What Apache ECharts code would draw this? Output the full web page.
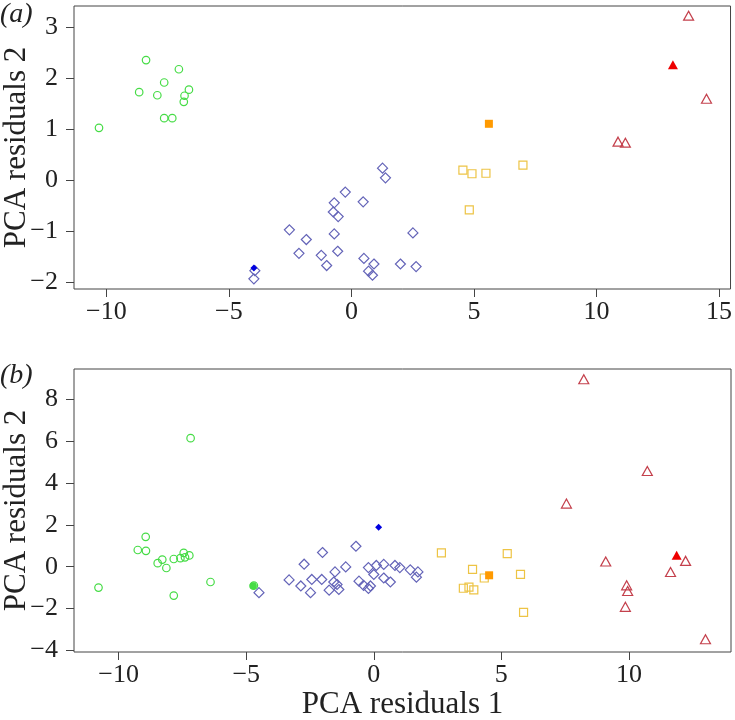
<!DOCTYPE html>
<html>
<head>
<meta charset="utf-8">
<script src="https://cdn.jsdelivr.net/npm/echarts@6/dist/echarts.min.js"></script>
<style>
html,body{margin:0;padding:0;background:#fff;}
#chart{width:735px;height:720px;}
</style>
</head>
<body>
<div id="chart"></div>
<script>
// ---------- Panel (a) data ----------
const aGreen = [[-8.38,2.36],[-7.04,2.18],[-7.64,1.92],[-6.63,1.78],[-8.66,1.73],[-7.92,1.67],[-6.81,1.66],[-6.84,1.54],[-7.64,1.22],[-7.31,1.22],[-10.30,1.03]];
const aBlue = [[-3.94,-1.77],[-3.98,-1.93],[-2.53,-0.97],[-1.84,-1.16],[-2.14,-1.43],[-1.23,-1.47],[-1.01,-1.67],[-0.70,-1.05],[-0.56,-1.39],[-0.70,-0.44],[-0.74,-0.62],[-0.54,-0.71],[-0.25,-0.23],[0.48,-0.42],[0.51,-1.53],[0.92,-1.64],[0.70,-1.78],[0.86,-1.86],[1.27,0.24],[1.39,0.05],[2.51,-1.03],[2.00,-1.64],[2.64,-1.69]];
const aBlueFill = [[-3.98,-1.72]];
const aYellow = [[4.55,0.20],[4.92,0.13],[5.49,0.14],[7.00,0.30],[4.81,-0.58]];
const aOrangeFill = [[5.61,1.11]];
const aRed = [[13.76,3.23],[14.49,1.60],[10.88,0.76],[11.18,0.74]];
const aRedFill = [[13.12,2.27]];
const aXTicks = [-10,-5,0,5,10,15];
const aYTicks = [-2,-1,0,1,2,3];

// ---------- Panel (b) data ----------
const bGreen = [[-8.94,1.43],[-9.25,0.80],[-8.93,0.76],[-8.47,0.17],[-8.29,0.34],[-8.13,-0.06],[-7.84,0.37],[-7.58,0.41],[-7.45,0.66],[-7.40,0.45],[-7.23,0.54],[-7.84,-1.38],[-6.40,-0.73],[-10.79,-1.00],[-7.18,6.15],[-4.70,-0.90]];
const bGreenFill = [[-4.73,-0.92]];
const bBlue = [[-4.50,-1.24],[-3.32,-0.63],[-2.86,-0.92],[-2.48,-1.24],[-2.43,-0.61],[-2.73,0.12],[-2.01,0.68],[-2.04,-0.61],[-1.75,-1.12],[-1.52,-0.25],[-1.57,-0.73],[-1.44,-0.85],[-1.37,-1.09],[-1.10,-0.01],[-0.70,0.98],[-0.58,-0.69],[-0.21,-0.04],[0.00,-0.37],[-0.40,-0.89],[-0.21,-1.04],[-0.13,-0.92],[0.10,0.06],[0.39,0.11],[0.39,-0.54],[0.65,-0.73],[0.83,0.06],[1.02,-0.04],[1.43,-0.15],[1.73,-0.25],[1.67,-0.50]];
const bBlueFill = [[0.19,1.89]];
const bYellow = [[2.65,0.66],[5.23,0.63],[3.87,-0.13],[4.33,-0.54],[5.75,-0.37],[3.51,-1.03],[3.73,-0.98],[3.92,-1.11],[5.87,-2.18]];
const bOrangeFill = [[4.52,-0.41]];
const bRed = [[8.23,8.97],[10.72,4.58],[7.55,3.02],[9.09,0.25],[12.22,0.28],[11.63,-0.25],[9.91,-0.89],[9.95,-1.16],[9.86,-1.92],[13.00,-3.47]];
const bRedFill = [[11.87,0.55]];
const bXTicks = [-10,-5,0,5,10];
const bYTicks = [-4,-2,0,2,4,6,8];

// ---------- styling ----------
const FONT = '"Liberation Serif", "Times New Roman", serif';
const TICK_FS = 26, TITLE_FS = 31;
const C = {
  green: '#46DC46', blue: '#6464B8', blueFill: '#0000E0',
  yellow: '#EDC445', orangeFill: '#FF9A00', red: '#C4404C', redFill: '#EE0000'
};
const fmt = v => String(v).replace('-', '\u2212');

function xAxisDef(idx, min, max, ticks) {
  return {
    type: 'value', gridIndex: idx, min: min, max: max,
    axisLine: { show: false, onZero: false },
    splitLine: { show: false },
    axisTick: { show: true, inside: false, length: 8, customValues: ticks, lineStyle: { color: '#444', width: 1 } },
    axisLabel: { customValues: ticks, formatter: fmt, margin: 10, fontFamily: FONT, fontSize: TICK_FS, color: '#222' }
  };
}
function yAxisDef(idx, min, max, ticks) {
  return {
    type: 'value', gridIndex: idx, min: min, max: max,
    axisLine: { show: false, onZero: false },
    splitLine: { show: false },
    axisTick: { show: true, inside: false, length: 8, customValues: ticks, lineStyle: { color: '#444', width: 1 } },
    axisLabel: { customValues: ticks, formatter: fmt, margin: 16, fontFamily: FONT, fontSize: TICK_FS, color: '#222' }
  };
}
function openSeries(data, idx, symbol, size, color) {
  return {
    type: 'scatter', xAxisIndex: idx, yAxisIndex: idx, data: data,
    symbol: symbol, symbolSize: size, z: 2,
    itemStyle: { color: 'rgba(0,0,0,0)', borderColor: color, borderWidth: 1.2, opacity: 1 },
    emphasis: { disabled: true }, silent: true
  };
}
function fillSeries(data, idx, symbol, size, color) {
  return {
    type: 'scatter', xAxisIndex: idx, yAxisIndex: idx, data: data,
    symbol: symbol, symbolSize: size, z: 5,
    itemStyle: { color: color, borderWidth: 0, opacity: 1 },
    emphasis: { disabled: true }, silent: true
  };
}
function panelSeries(idx, g, gf, bl, blf, y, of, r, rf) {
  const s = [
    openSeries(g, idx, 'circle', 7.5, C.green),
    openSeries(bl, idx, 'diamond', [10, 10], C.blue),
    openSeries(y, idx, 'rect', 8, C.yellow),
    openSeries(r, idx, 'triangle', [10, 9], C.red)
  ];
  if (gf) s.push(fillSeries(gf, idx, 'circle', 7.5, C.green));
  s.push(fillSeries(blf, idx, 'diamond', [7, 7], C.blueFill));
  s.push(fillSeries(of, idx, 'rect', 8, C.orangeFill));
  s.push(fillSeries(rf, idx, 'triangle', [10, 9], C.redFill));
  return s;
}

const chart = echarts.init(document.getElementById('chart'), null, { renderer: 'canvas' });
chart.setOption({
  animation: false,
  backgroundColor: '#fff',
  grid: [
    { left: 74, top: 6, width: 657, height: 283, show: true, borderColor: '#444', borderWidth: 1, backgroundColor: 'transparent' },
    { left: 74, top: 369, width: 657, height: 283, show: true, borderColor: '#444', borderWidth: 1, backgroundColor: 'transparent' }
  ],
  xAxis: [
    xAxisDef(0, -11.32, 15.47, aXTicks),
    xAxisDef(1, -11.75, 14.0, bXTicks)
  ],
  yAxis: [
    yAxisDef(0, -2.13, 3.42, aYTicks),
    yAxisDef(1, -4.08, 9.46, bYTicks)
  ],
  series: [].concat(
    panelSeries(0, aGreen, null, aBlue, aBlueFill, aYellow, aOrangeFill, aRed, aRedFill),
    panelSeries(1, bGreen, bGreenFill, bBlue, bBlueFill, bYellow, bOrangeFill, bRed, bRedFill)
  ),
  graphic: [
    { type: 'text', left: 0, top: 1, style: { text: '(a)', font: 'italic 28px ' + FONT, fill: '#222' } },
    { type: 'text', left: 0, top: 362, style: { text: '(b)', font: 'italic 28px ' + FONT, fill: '#222' } },
    { type: 'text', x: 17, y: 147.5, rotation: Math.PI / 2, style: { text: 'PCA residuals 2', font: TITLE_FS + 'px ' + FONT, fill: '#222', align: 'center', verticalAlign: 'middle' } },
    { type: 'text', x: 17, y: 510.5, rotation: Math.PI / 2, style: { text: 'PCA residuals 2', font: TITLE_FS + 'px ' + FONT, fill: '#222', align: 'center', verticalAlign: 'middle' } },
    { type: 'text', x: 402.5, y: 705, style: { text: 'PCA residuals 1', font: TITLE_FS + 'px ' + FONT, fill: '#222', align: 'center', verticalAlign: 'middle' } }
  ]
});
</script>
</body>
</html>
